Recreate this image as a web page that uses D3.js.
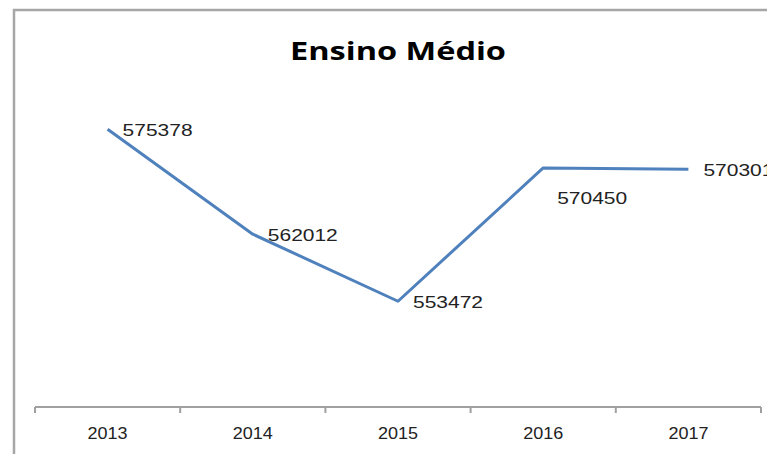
<html>
<head>
  <script src="https://d3js.org/d3.v7.min.js"></script>
  <style>
    body { margin: 0; background: #fff; }
    .title { font-family: "Open Sans", Arial, sans-serif; font-weight: bold; font-size: 25px; fill: #000; }
    .val-label { font-family: "Liberation Sans", Arial, sans-serif; font-size: 17px; fill: #222; }
    .year { font-family: "Liberation Sans", Arial, sans-serif; font-size: 17px; fill: #222; }
  </style>
</head>
<body>
  <svg id="chart" width="767" height="454"></svg>
  <script>
    const years = ["2013", "2014", "2015", "2016", "2017"];
    const matriculas = [575378, 562012, 553472, 570450, 570301];
    const labelPos = ["right", "right", "right", "below", "right"];

    const svg = d3.select("svg#chart");
    const plotLeft = 35, plotRight = 761, plotTop = 93, axisY = 407;

    // frame (cropped on the right and bottom)
    svg.append("path")
      .attr("d", "M14,460 L14,10 L780,10")
      .attr("fill", "none")
      .attr("stroke", "#a6a6a6")
      .attr("stroke-width", 2.5);

    svg.append("text")
      .attr("class", "title")
      .attr("x", 398).attr("y", 60)
      .attr("text-anchor", "middle")
      .attr("textLength", 216)
      .attr("lengthAdjust", "spacingAndGlyphs")
      .text("Ensino Médio");

    const x = d3.scaleBand().domain(years).range([plotLeft, plotRight]);
    const y = d3.scaleLinear().domain([540000, 580000]).range([axisY, plotTop]);

    // x axis with ticks at band edges
    const axis = svg.append("g");
    axis.append("line")
      .attr("x1", plotLeft).attr("x2", plotRight)
      .attr("y1", axisY).attr("y2", axisY)
      .attr("stroke", "#a0a0a0").attr("stroke-width", 2);
    const edges = years.map(d => x(d)).concat([plotRight]);
    axis.selectAll(".tick")
      .data(edges)
      .join("line")
      .attr("class", "tick")
      .attr("x1", d => d).attr("x2", d => d)
      .attr("y1", axisY).attr("y2", axisY + 6)
      .attr("stroke", "#a0a0a0").attr("stroke-width", 2);
    axis.selectAll(".year")
      .data(years)
      .join("text")
      .attr("class", "year")
      .attr("x", d => x(d) + x.bandwidth() / 2)
      .attr("y", 439)
      .attr("text-anchor", "middle")
      .attr("textLength", 40)
      .attr("lengthAdjust", "spacingAndGlyphs")
      .text(d => d);

    const pts = years.map((d, i) => ({ year: d, v: matriculas[i], pos: labelPos[i] }));
    const cx = d => x(d.year) + x.bandwidth() / 2;

    svg.append("path")
      .datum(pts)
      .attr("fill", "none")
      .attr("stroke", "#4f81bd")
      .attr("stroke-width", 3)
      .attr("stroke-linejoin", "round")
      .attr("d", d3.line().x(cx).y(d => y(d.v)));

    svg.selectAll(".val-label")
      .data(pts)
      .join("text")
      .attr("class", "val-label")
      .attr("x", d => d.pos === "below" ? cx(d) + 14 : cx(d) + 15)
      .attr("y", d => d.pos === "below" ? y(d.v) + 36 : y(d.v) + 7)
      .attr("textLength", 70)
      .attr("lengthAdjust", "spacingAndGlyphs")
      .text(d => d.v);
  </script>
</body>
</html>
